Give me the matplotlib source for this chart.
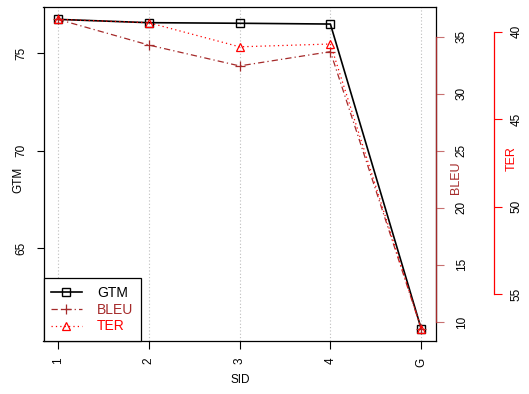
import matplotlib
matplotlib.use("Agg")
import matplotlib.pyplot as plt

plt.rcParams['font.family'] = ['Liberation Sans', 'DejaVu Sans']

# --- data ---
sid_labels = ['1', '2', '3', '4', 'G']
gtm = [76.74, 76.57, 76.54, 76.50, 60.86]
bleu = [36.52, 34.27, 32.44, 33.69, 9.41]
ter = [39.29, 39.48, 40.86, 40.70, 56.98]

gtm_ticks = [65, 70, 75]
bleu_ticks = [10, 15, 20, 25, 30, 35]
ter_ticks = [40, 45, 50, 55]

BROWN = '#A52A2A'
RED = '#FF0000'


def rlim(vals):
    # R style 4% padding
    lo, hi = min(vals), max(vals)
    pad = 0.04 * (hi - lo)
    return lo - pad, hi + pad


W, H = 529, 394
fig = plt.figure(figsize=(W / 100, H / 100), dpi=100)
left, right, top, bottom = 43.5, 435.7, 7, 341
ax = fig.add_axes([left / W, 1 - bottom / H, (right - left) / W, (bottom - top) / H])

x = list(range(1, len(sid_labels) + 1))
ax.set_xlim(rlim(x))
ax.set_ylim(rlim(gtm))

# vertical dotted grid
for xi in x:
    ax.axvline(xi, color='#BDBDBD', lw=0.8, ls=(0, (1, 2)), zorder=0)

l_gtm, = ax.plot(x, gtm, color='black', lw=1.2, marker='s', ms=5.5,
                 mfc='none', mew=1.0, label='GTM')

ax.set_xticks(x)
ax.set_xticklabels(sid_labels, rotation=90)
ax.set_yticks(gtm_ticks)
ax.tick_params(axis='both', direction='out', length=5.4, width=0.8,
               labelsize=8.5, pad=6.5)
ax.tick_params(axis='y', labelrotation=90)
for lab in ax.get_yticklabels():
    lab.set_va('center')
for s in ax.spines.values():
    s.set_linewidth(0.9)

# BLEU axis
ax2 = ax.twinx()
ax2.set_ylim(rlim(bleu))
l_bleu, = ax2.plot(x, bleu, color=BROWN, lw=0.9, ls=(0, (5, 2.5, 1, 2.5)),
                   marker='+', ms=7, mew=0.9, label='BLEU')
for k in ['left', 'top', 'bottom']:
    ax2.spines[k].set_visible(False)
ax2.spines['right'].set_color(BROWN)
ax2.spines['right'].set_linewidth(0.9)
ax2.spines['right'].set_bounds(bleu_ticks[0], bleu_ticks[-1])
ax2.set_yticks(bleu_ticks)
ax2.tick_params(axis='y', direction='out', length=5.4, width=0.8, color='#C87070',
                labelsize=8.5, pad=9, labelrotation=90)
for lab in ax2.get_yticklabels():
    lab.set_va('center')

# TER axis (inverted)
ax3 = ax.twinx()
lo, hi = rlim(ter)
ax3.set_ylim(hi, lo)
l_ter, = ax3.plot(x, ter, color=RED, lw=0.9, ls=(0, (1, 2.5)),
                  marker='^', ms=6, mfc='none', mew=0.9, label='TER')
for k in ['left', 'top', 'bottom']:
    ax3.spines[k].set_visible(False)
ax3.spines['right'].set_position(('axes', (494.3 - left) / (right - left)))
ax3.spines['right'].set_color(RED)
ax3.spines['right'].set_linewidth(0.9)
ax3.spines['right'].set_bounds(ter_ticks[0], ter_ticks[-1])
ax3.set_yticks(ter_ticks)
ax3.tick_params(axis='y', direction='out', length=5.4, width=0.8, color=RED,
                labelsize=8.5, pad=6.5, labelrotation=90)
for lab in ax3.get_yticklabels():
    lab.set_va('center')

# axis titles
fig.text(18 / W, 1 - 180 / H, 'GTM', rotation=90, ha='center', va='center', fontsize=8.5)
fig.text(456 / W, 1 - 178 / H, 'BLEU', rotation=90, ha='center', va='center',
         fontsize=9, color=BROWN)
fig.text(512 / W, 1 - 159 / H, 'TER', rotation=90, ha='center', va='center',
         fontsize=9, color=RED)
fig.text(240 / W, 1 - 380 / H, 'SID', ha='center', va='center', fontsize=8.5)

leg = ax3.legend(handles=[l_gtm, l_bleu, l_ter], loc='lower left',
                 bbox_to_anchor=(0, 0), borderaxespad=0, fancybox=False,
                 edgecolor='black', framealpha=1, fontsize=10,
                 handlelength=2.2, handletextpad=1.1, labelspacing=0.2,
                 borderpad=0.55)
leg.get_frame().set_linewidth(0.9)
for txt, c in zip(leg.get_texts(), ['black', BROWN, RED]):
    txt.set_color(c)

fig.savefig('out.png', dpi=100)
